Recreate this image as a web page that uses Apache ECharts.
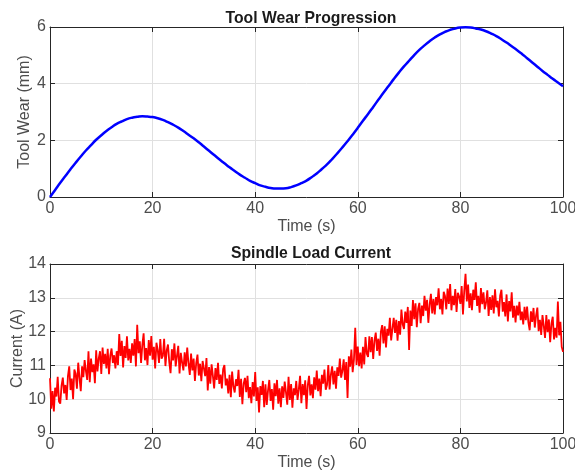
<!DOCTYPE html>
<html>
<head>
<meta charset="utf-8">
<script src="https://cdn.jsdelivr.net/npm/echarts@6/dist/echarts.min.js"></script>
<style>
  html, body { margin: 0; padding: 0; background: #ffffff; }
  #chart { width: 575px; height: 474px; }
</style>
</head>
<body>
<div id="chart"></div>
<script>
// Tool wear (mm), sampled once per second from t = 0 to 100 s
const wearStep = 1;
const toolWear = [
  0.00, 0.25, 0.50, 0.74, 0.98, 1.21, 1.43, 1.64, 1.83, 2.02,
  2.18, 2.33, 2.46, 2.58, 2.67, 2.75, 2.80, 2.83, 2.85, 2.84,
  2.82, 2.78, 2.72, 2.64, 2.55, 2.45, 2.33, 2.20, 2.07, 1.93,
  1.78, 1.63, 1.48, 1.33, 1.19, 1.05, 0.92, 0.79, 0.68, 0.57,
  0.49, 0.41, 0.36, 0.32, 0.30, 0.30, 0.31, 0.35, 0.41, 0.49,
  0.58, 0.70, 0.83, 0.99, 1.15, 1.34, 1.54, 1.75, 1.97, 2.20,
  2.44, 2.69, 2.93, 3.18, 3.43, 3.68, 3.92, 4.16, 4.39, 4.61,
  4.81, 5.01, 5.19, 5.35, 5.50, 5.63, 5.74, 5.83, 5.90, 5.95,
  5.98, 5.99, 5.98, 5.95, 5.91, 5.85, 5.77, 5.68, 5.57, 5.45,
  5.32, 5.19, 5.05, 4.90, 4.75, 4.60, 4.45, 4.31, 4.17, 4.04,
  3.91
];

// Spindle load current (A), sampled every 0.25 s from t = 0 to 100 s
const currentStep = 0.25;
const spindleCurrent = [
  10.62, 9.72, 10.24, 9.64,   10.34, 10.08, 10.66, 9.93,   9.87, 10.40, 10.64, 10.17,
  10.42, 9.98, 10.69, 10.97,  10.27, 10.61, 10.00, 10.88,  10.75, 10.31, 11.08, 10.63,
  10.24, 10.97, 10.65, 11.16, 10.84, 10.57, 11.42, 10.50,  11.20, 10.80, 11.03, 10.47,
  11.45, 10.82, 11.21, 11.42, 10.75, 11.53, 11.04, 11.34,  10.91, 11.49, 10.74, 11.29,
  11.50, 11.07, 11.30, 10.91, 11.42, 11.01, 11.93, 11.28,  11.73, 10.94, 11.57, 11.22,
  11.86, 11.15, 11.49, 11.07, 11.65, 11.29, 11.78, 10.97,  12.20, 11.36, 11.71, 11.07,
  11.61, 11.95, 11.15, 11.51, 11.01, 11.75, 11.29, 11.87,  11.17, 11.55, 10.91, 11.67,
  11.45, 11.07, 11.78, 11.20, 11.28, 11.79, 10.98, 11.45,  11.62, 11.09, 10.77, 11.48,
  11.15, 11.65, 10.97, 11.28, 11.58, 10.76, 11.37, 11.09,  10.85, 11.39, 10.97, 11.53,
  11.05, 10.72, 11.35, 10.85, 11.20, 10.54, 11.07, 11.32,  10.70, 11.05, 10.53, 11.13,
  10.91, 10.68, 11.22, 10.26, 10.95, 10.46, 11.03, 10.69,  10.32, 10.92, 10.57, 11.08,
  10.45, 10.73, 10.32, 10.89, 11.01, 10.41, 10.61, 10.17,  10.72, 10.06, 10.82, 10.38,
  10.20, 10.59, 10.39, 10.87, 10.07, 10.60, 9.85, 10.46,   10.63, 10.21, 10.69, 10.03,
  10.36, 9.88, 10.51, 10.08,  10.80, 9.95, 10.35, 9.61,    10.39, 10.13, 10.54, 9.76,
  10.44, 9.83, 10.26, 10.57,  9.95, 10.30, 9.69, 10.47,    10.09, 10.57, 9.87, 10.32,
  9.76, 10.38, 10.04, 10.52,  10.20, 9.84, 10.66, 9.98,    10.45, 9.75, 10.32, 10.12,
  10.54, 9.98, 10.29, 10.69,  9.88, 10.45, 10.12, 10.56,   9.71, 10.42, 10.69, 10.11,
  10.44, 10.03, 10.65, 10.28, 10.85, 10.24, 10.61, 10.09,  10.72, 10.46, 10.88, 10.28,
  10.42, 11.01, 10.29, 10.73, 10.97, 10.44, 10.84, 10.31,  10.94, 10.69, 11.20, 10.64,
  10.84, 11.18, 10.57, 11.10, 10.04, 11.27, 10.96, 11.47,  10.80, 11.18, 12.11, 11.01,
  11.56, 10.98, 11.38, 10.91, 11.55, 11.03, 11.84, 11.35,  11.25, 11.86, 11.39, 11.84,
  11.19, 11.74, 11.97, 11.43, 11.79, 11.29, 12.00, 12.19,  11.65, 12.16, 11.53, 12.08,
  11.88, 12.41, 11.74, 12.08, 12.41, 11.96, 12.35, 11.73,  12.31, 11.91, 12.65, 12.22,
  12.08, 12.59, 12.26, 12.73, 11.46, 12.62, 12.17, 12.93,  12.37, 12.84, 12.13, 12.67,
  12.85, 12.25, 12.77, 12.46, 13.06, 12.62, 12.94, 12.26,  12.79, 13.12, 12.54, 12.96,
  12.51, 13.02, 12.78, 13.28, 12.66, 12.96, 12.51, 13.18,  13.05, 12.66, 13.27, 12.82,
  13.41, 12.63, 13.06, 12.78, 13.26, 12.58, 13.15, 13.04,  12.82, 13.35, 12.51, 13.21,
  13.71, 12.89, 13.39, 12.70, 13.13, 12.63, 13.24, 12.94,  13.46, 12.76, 13.06, 12.56,
  13.29, 12.81, 13.16, 12.66, 12.86, 13.22, 12.46, 13.02,  12.64, 13.07, 12.54, 13.25,
  12.72, 12.91, 12.45, 13.06, 13.24, 12.59, 12.87, 12.45,  13.10, 12.30, 12.90, 12.60,
  13.16, 12.41, 12.76, 12.27, 12.77, 12.48, 12.88, 12.34,  12.59, 12.21, 12.73, 12.34,
  12.74, 12.27, 12.04, 12.60, 12.29, 12.70, 12.12, 12.47,  12.71, 12.01, 12.35, 11.90,
  12.49, 12.17, 11.81, 12.49, 11.98, 12.36, 11.69, 12.24,  12.44, 11.77, 12.11, 11.82,
  12.89, 11.89, 12.29, 11.55, 11.40
];

// Axis ticks
const timeTicks = { min: 0, max: 100, interval: 20 };
const wearTicks = { min: 0, max: 6, interval: 2 };
const currentTicks = { min: 9, max: 14, interval: 1 };

const wearData = toolWear.map((v, i) => [i * wearStep, v]);
const currentData = spindleCurrent.map((v, i) => [i * currentStep, v]);

const FONT = '"Liberation Sans", Arial, Helvetica, sans-serif';
const AXIS_COLOR = '#262626';
const LABEL_COLOR = '#4d4d4d';
const GRID_COLOR = '#e0e0e0';
const FS = 16;

function mainXAxis(gridIndex) {
  return {
    type: 'value', gridIndex,
    min: timeTicks.min, max: timeTicks.max, interval: timeTicks.interval,
    name: 'Time (s)', nameLocation: 'middle', nameGap: 22, nameMoveOverlap: false,
    nameTextStyle: { fontFamily: FONT, fontSize: FS, color: LABEL_COLOR },
    axisLine: { show: true, onZero: false, lineStyle: { color: AXIS_COLOR, width: 1 } },
    axisTick: { show: true, inside: true, length: 5, lineStyle: { color: AXIS_COLOR } },
    axisLabel: { fontFamily: FONT, fontSize: FS, color: LABEL_COLOR, margin: 4 },
    splitLine: { show: true, lineStyle: { color: GRID_COLOR, width: 1 } }
  };
}
function boxXAxis(gridIndex) {
  return {
    type: 'value', gridIndex, position: 'top',
    min: timeTicks.min, max: timeTicks.max, interval: timeTicks.interval,
    axisLine: { show: true, onZero: false, lineStyle: { color: AXIS_COLOR, width: 1 } },
    axisTick: { show: true, inside: true, length: 5, lineStyle: { color: AXIS_COLOR } },
    axisLabel: { show: false }, splitLine: { show: false }
  };
}
function mainYAxis(gridIndex, ticks, name, gap) {
  return {
    type: 'value', gridIndex,
    min: ticks.min, max: ticks.max, interval: ticks.interval,
    name, nameLocation: 'middle', nameGap: gap, nameMoveOverlap: false,
    nameTextStyle: { fontFamily: FONT, fontSize: FS, color: LABEL_COLOR },
    axisLine: { show: true, onZero: false, lineStyle: { color: AXIS_COLOR, width: 1 } },
    axisTick: { show: true, inside: true, length: 5, lineStyle: { color: AXIS_COLOR } },
    axisLabel: { fontFamily: FONT, fontSize: FS, color: LABEL_COLOR, margin: 4 },
    splitLine: { show: true, lineStyle: { color: GRID_COLOR, width: 1 } }
  };
}
function boxYAxis(gridIndex, ticks) {
  return {
    type: 'value', gridIndex, position: 'right',
    min: ticks.min, max: ticks.max, interval: ticks.interval,
    axisLine: { show: true, onZero: false, lineStyle: { color: AXIS_COLOR, width: 1 } },
    axisTick: { show: true, inside: true, length: 5, lineStyle: { color: AXIS_COLOR } },
    axisLabel: { show: false }, splitLine: { show: false }
  };
}

const chart = echarts.init(document.getElementById('chart'), null, { renderer: 'canvas' });
chart.setOption({
  animation: false,
  backgroundColor: '#ffffff',
  title: [
    { text: 'Tool Wear Progression', left: 306, top: 6, textAlign: 'center',
      textStyle: { fontFamily: FONT, fontSize: 15.75, fontWeight: 'bold', color: '#1a1a1a' } },
    { text: 'Spindle Load Current', left: 306, top: 241, textAlign: 'center',
      textStyle: { fontFamily: FONT, fontSize: 15.75, fontWeight: 'bold', color: '#1a1a1a' } }
  ],
  grid: [
    { left: 50, right: 12, top: 27, height: 170, outerBoundsMode: 'none', containLabel: false },
    { left: 50, right: 12, top: 264, height: 169, outerBoundsMode: 'none', containLabel: false }
  ],
  xAxis: [mainXAxis(0), boxXAxis(0), mainXAxis(1), boxXAxis(1)],
  yAxis: [
    mainYAxis(0, wearTicks, 'Tool Wear (mm)', 17), boxYAxis(0, wearTicks),
    mainYAxis(1, currentTicks, 'Current (A)', 24), boxYAxis(1, currentTicks)
  ],
  series: [
    { type: 'line', xAxisIndex: 0, yAxisIndex: 0, data: wearData, smooth: true,
      showSymbol: false, lineStyle: { color: '#0000ff', width: 2.5 } },
    { type: 'line', xAxisIndex: 2, yAxisIndex: 2, data: currentData,
      showSymbol: false, lineStyle: { color: '#ff0000', width: 1.8 } }
  ]
});
</script>
</body>
</html>
